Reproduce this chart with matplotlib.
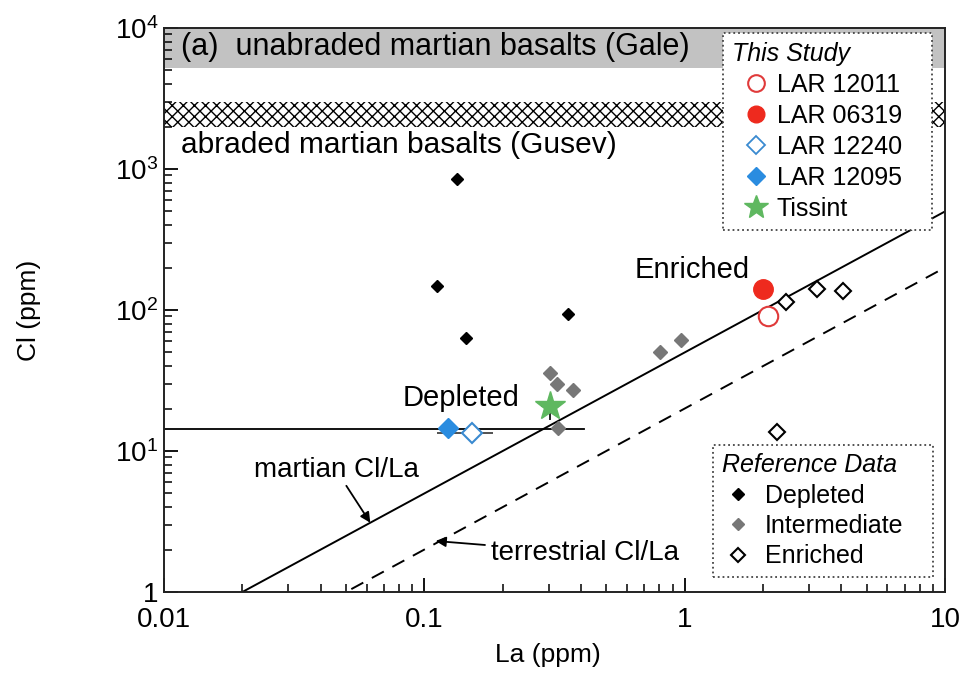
import matplotlib
matplotlib.use("Agg")
import matplotlib.pyplot as plt
from matplotlib.lines import Line2D
from matplotlib import font_manager
import numpy as np

plt.rcParams['font.family'] = ['Liberation Sans', 'DejaVu Sans']
plt.rcParams['hatch.linewidth'] = 1.0

# narrow font for legends if present
try:
    font_manager.findfont(font_manager.FontProperties(family='Liberation Sans Narrow'),
                          fallback_to_default=False)
    LEG_FAMILY = ['Liberation Sans Narrow', 'Liberation Sans']
    LEG_SIZE = 22
except Exception:
    LEG_FAMILY = ['Liberation Sans']
    LEG_SIZE = 18

# ---------------- data ----------------
dep_la = [0.133, 0.112, 0.145, 0.357]
dep_cl = [850, 148, 63, 93]

int_la = [0.305, 0.322, 0.374, 0.325, 0.806, 0.97]
int_cl = [36, 30, 27, 14.5, 50, 61]

enr_la = [2.45, 3.23, 4.06, 2.27]
enr_cl = [114, 141, 136, 13.6]

lar12011 = (2.09, 90)
lar06319 = (2.0, 141)
lar12240 = (0.153, 13.4)
lar12240_xerr = ([0.041], [0.030])
lar12095 = (0.123, 14.6)
tissint = (0.305, 21)
tissint_xerr = ([0.025], [0.025])
tissint_yerr = ([4.5], [0.0])

martian_ratio = 50.0
terrestrial_ratio = 20.0

depleted_hline_cl = 14.3
depleted_hline_la_max = 0.41

gale_band = (5200, 10000)
gusev_band = (2000, 3000)

x_ticks = [0.01, 0.1, 1, 10]
x_tick_labels = ['0.01', '0.1', '1', '10']
y_ticks = [1, 10, 100, 1000, 10000]
y_tick_labels = ['1', r'$\mathregular{10^{1}}$', r'$\mathregular{10^{2}}$',
                 r'$\mathregular{10^{3}}$', r'$\mathregular{10^{4}}$']

# ---------------- figure ----------------
fig = plt.figure(figsize=(9.64, 6.77), dpi=100)
AX_L, AX_R, AX_T, AX_B = 164, 945, 28, 592
ax = fig.add_axes([AX_L/964, 1-AX_B/677, (AX_R-AX_L)/964, (AX_B-AX_T)/677])
ax.set_xscale('log')
ax.set_yscale('log')
ax.set_xlim(0.01, 10)
ax.set_ylim(1, 10000)

def fx(px):
    return (px - AX_L) / (AX_R - AX_L)

def fy(py):
    return (AX_B - py) / (AX_B - AX_T)

# bands
ax.axhspan(*gale_band, color='#c2c2c2', lw=0, zorder=0)
ax.axhspan(*gusev_band, facecolor='white', edgecolor='black', hatch='xxx', lw=0, zorder=0)

# ratio lines
xl = np.array([0.01, 10])
ax.plot(xl, xl*martian_ratio, color='black', lw=1.4, zorder=2)
ax.plot(xl, xl*terrestrial_ratio, color='black', lw=1.4, ls=(0, (7, 5)), zorder=2)

ax.plot([0.01, depleted_hline_la_max], [depleted_hline_cl]*2, color='black', lw=1.3, zorder=2)

# reference data
ax.plot(dep_la, dep_cl, 'D', color='black', ms=6, ls='none', zorder=3)
ax.plot(int_la, int_cl, 'D', color='#777777', ms=7, ls='none', zorder=3)
ax.plot(enr_la, enr_cl, 'D', mfc='white', mec='black', mew=1.5, ms=8, ls='none', zorder=3)

# this study
ax.errorbar([lar12240[0]], [lar12240[1]], xerr=lar12240_xerr, fmt='none',
            ecolor='#333333', elinewidth=1.2, capsize=0, zorder=3)
ax.plot(*lar12240, 'D', mfc='white', mec='#3a8ad0', mew=1.5, ms=10, zorder=4)
ax.plot(*lar12095, 'D', color='#2a8ce0', ms=10, zorder=4)
ax.plot(*lar12011, 'o', mfc='white', mec='#e03a3a', mew=1.5, ms=14, zorder=4)
ax.plot(*lar06319, 'o', color='#ee2a1e', ms=14, zorder=4)
ax.errorbar([tissint[0]], [tissint[1]], xerr=tissint_xerr, yerr=tissint_yerr, fmt='none',
            ecolor='black', elinewidth=1.2, capsize=0, zorder=3)
ax.plot(*tissint, '*', color='#5fb860', ms=22, zorder=4)

# texts
ax.text(0.0217, 0.966, '(a)  unabraded martian basalts (Gale)', transform=ax.transAxes,
        fontsize=22, va='center', ha='left')
ax.text(0.0217, 0.7926, 'abraded martian basalts (Gusev)', transform=ax.transAxes,
        fontsize=21.5, va='center', ha='left')
ax.text(0.641, 192, 'Enriched', fontsize=21, va='center', ha='left')
ax.text(0.0826, 23.8, 'Depleted', fontsize=21, va='center', ha='left')

ax.annotate('martian Cl/La', xy=(0.062, 3.1), xytext=(0.0221, 7.33),
            fontsize=20, va='center', ha='left',
            arrowprops=dict(arrowstyle='-|>', color='black', lw=1.3, shrinkA=0, shrinkB=0,
                            mutation_scale=15))
ax.annotate('terrestrial Cl/La', xy=(0.1105, 2.3), xytext=(0.1796, 1.89),
            fontsize=20, va='center', ha='left',
            arrowprops=dict(arrowstyle='-|>', color='black', lw=1.3, shrinkA=2, shrinkB=0,
                            mutation_scale=15))

# ticks
ax.set_xticks(x_ticks)
ax.set_xticklabels(x_tick_labels)
ax.set_yticks(y_ticks)
ax.set_yticklabels(y_tick_labels)
ax.tick_params(which='major', direction='in', length=10, width=1.3, labelsize=20,
               top=False, right=False, pad=4)
ax.tick_params(which='minor', direction='in', length=5.5, width=1.1, top=False, right=False)
ax.tick_params(axis='x', which='major', pad=11)
for s in ax.spines.values():
    s.set_linewidth(1.4)
    s.set_color('#222222')

ax.set_xlabel('La (ppm)', fontsize=19)
ax.set_ylabel('Cl (ppm)', fontsize=19)
ax.xaxis.set_label_coords(fx(548), fy(655))
ax.yaxis.set_label_coords(fx(29), 0.5)
ax.xaxis.label.set_va('center')
ax.yaxis.label.set_va('center')

# legends
leg_prop = {'family': LEG_FAMILY, 'size': LEG_SIZE}
title_prop = {'family': LEG_FAMILY, 'size': LEG_SIZE, 'style': 'italic'}

h1 = [
    Line2D([], [], marker='o', ls='none', mfc='white', mec='#e03a3a', mew=1.5, ms=12),
    Line2D([], [], marker='o', ls='none', color='#ee2a1e', ms=12),
    Line2D([], [], marker='D', ls='none', mfc='white', mec='#3a8ad0', mew=1.3, ms=9),
    Line2D([], [], marker='D', ls='none', color='#2a8ce0', ms=9),
    Line2D([], [], marker='*', ls='none', color='#5fb860', ms=18),
]
l1 = ['LAR 12011', 'LAR 06319', 'LAR 12240', 'LAR 12095', 'Tissint']
leg1 = ax.legend(h1, l1, loc='upper left',
                 bbox_to_anchor=(fx(723), fy(230), fx(932)-fx(723), fy(33)-fy(230)),
                 mode='expand',
                 title='This Study', alignment='left', prop=leg_prop,
                 title_fontproperties=title_prop,
                 frameon=True, fancybox=False, framealpha=1, edgecolor='#444444',
                 borderpad=0.35, labelspacing=0.28, handlelength=1.9, handletextpad=-0.1,
                 borderaxespad=0)
leg1.get_frame().set_linestyle(':')
leg1.get_frame().set_linewidth(1.3)
leg1.set_zorder(5)
ax.add_artist(leg1)

h2 = [
    Line2D([], [], marker='D', ls='none', color='black', ms=6),
    Line2D([], [], marker='D', ls='none', color='#777777', ms=6),
    Line2D([], [], marker='D', ls='none', mfc='white', mec='black', mew=1.5, ms=7),
]
l2 = ['Depleted', 'Intermediate', 'Enriched']
leg2 = ax.legend(h2, l2, loc='lower left',
                 bbox_to_anchor=(fx(713), fy(577), fx(933)-fx(713), fy(443)-fy(577)),
                 mode='expand',
                 title='Reference Data', alignment='left', prop=leg_prop,
                 title_fontproperties=title_prop,
                 frameon=True, fancybox=False, framealpha=1, edgecolor='#444444',
                 borderpad=0.35, labelspacing=0.25, handlelength=1.33, handletextpad=0.38,
                 borderaxespad=0)
leg2.get_frame().set_linestyle(':')
leg2.get_frame().set_linewidth(1.3)
leg2.set_zorder(5)

fig.savefig('out.png', dpi=100)
